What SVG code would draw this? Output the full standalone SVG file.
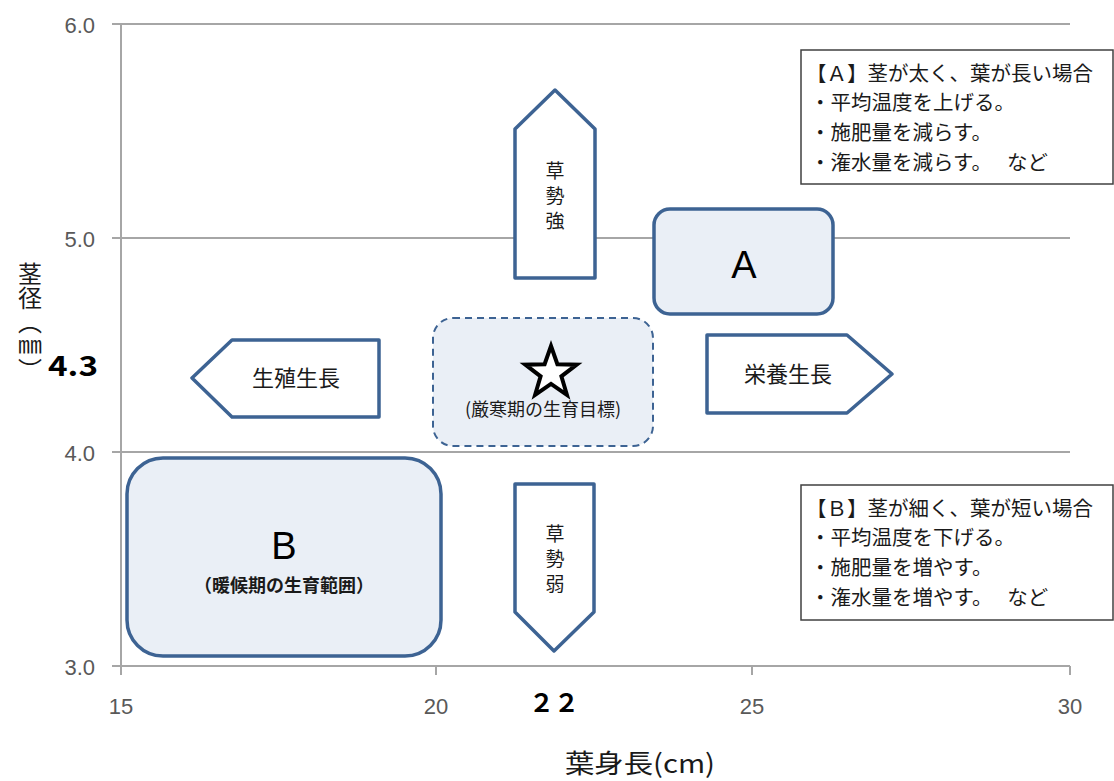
<svg xmlns="http://www.w3.org/2000/svg" width="1114" height="781" viewBox="0 0 1114 781">
<style>
.grid{stroke:#a6a6a6;stroke-width:2;fill:none}
.tick{font-family:"Liberation Sans","Noto Sans CJK JP",sans-serif;font-size:22px;fill:#595959}
.shape{stroke:#3d6393;stroke-width:3.5;fill:#ffffff;stroke-linejoin:round}
.zone{stroke:#3d6393;stroke-width:3.5;fill:#eaeff6}
.jp{font-family:"Noto Sans CJK JP",sans-serif;fill:#1a1a1a}
.note{font-family:"Noto Sans CJK JP",sans-serif;font-size:20.5px;fill:#1a1a1a}
.big{font-family:"Noto Sans CJK JP",sans-serif;font-weight:bold;fill:#000}
</style>
<rect width="1114" height="781" fill="#ffffff"/>
<g id="axes">
<line class="grid" x1="112" y1="24" x2="1070" y2="24"/>
<line class="grid" x1="112" y1="238" x2="1070" y2="238"/>
<line class="grid" x1="112" y1="452" x2="1070" y2="452"/>
<line class="grid" x1="112" y1="666" x2="1070" y2="666"/>
<line class="grid" x1="121" y1="24" x2="121" y2="675"/>
<line class="grid" x1="436" y1="666" x2="436" y2="675"/>
<line class="grid" x1="752" y1="666" x2="752" y2="675"/>
<line class="grid" x1="1070" y1="666" x2="1070" y2="675"/>
<text class="tick" x="95" y="33" text-anchor="end" font-size="24">6.0</text>
<text class="tick" x="95" y="247" text-anchor="end" font-size="24">5.0</text>
<text class="tick" x="95" y="461" text-anchor="end" font-size="24">4.0</text>
<text class="tick" x="95" y="675" text-anchor="end" font-size="24">3.0</text>
<text class="tick" x="121" y="714" text-anchor="middle">15</text>
<text class="tick" x="436" y="714" text-anchor="middle">20</text>
<text class="tick" x="752" y="714" text-anchor="middle">25</text>
<text class="tick" x="1070" y="714" text-anchor="middle">30</text>
<text class="big" x="48" y="376" font-size="28" textLength="50" lengthAdjust="spacingAndGlyphs">4.3</text>
<text class="big" x="554" y="712" font-size="25" text-anchor="middle">２２</text>
<text class="jp" x="565" y="773" font-size="26" textLength="150" lengthAdjust="spacingAndGlyphs">葉身長(cm)</text>
<text class="jp" x="30" y="262" font-size="24" style="writing-mode:vertical-rl">茎径（㎜）</text>
</g>
<g id="connectors"></g>
<g id="arrow-up">
<polygon class="shape" points="515,278 515,129 555,90 595,129 595,278"/>
<text class="jp" x="555" y="178" font-size="19" text-anchor="middle">草</text>
<text class="jp" x="555" y="203" font-size="19" text-anchor="middle">勢</text>
<text class="jp" x="555" y="228" font-size="19" text-anchor="middle">強</text>
</g>
<g id="arrow-down">
<polygon class="shape" points="515,484 594,484 594,612 554,651 515,612"/>
<text class="jp" x="555" y="541" font-size="19" text-anchor="middle">草</text>
<text class="jp" x="555" y="566" font-size="19" text-anchor="middle">勢</text>
<text class="jp" x="555" y="591" font-size="19" text-anchor="middle">弱</text>
</g>
<g id="arrow-left">
<polygon class="shape" points="379,340 379,417 232,417 192,378 232,340"/>
<text class="jp" x="296" y="386" font-size="22" text-anchor="middle">生殖生長</text>
</g>
<g id="arrow-right">
<polygon class="shape" points="707,335 847,335 892,374 847,413 707,413"/>
<text class="jp" x="788" y="382" font-size="22" text-anchor="middle">栄養生長</text>
</g>
<g id="zone-a">
<rect class="zone" x="654" y="209" width="179" height="105" rx="16"/>
<text x="744" y="278" font-family="Liberation Sans,sans-serif" font-size="38" fill="#000" text-anchor="middle">A</text>
</g>
<g id="zone-target">
<rect x="433" y="318" width="220" height="128" rx="20" fill="#eaeff6" stroke="#3d6393" stroke-width="2" stroke-dasharray="7,5"/>
<polygon points="551,346 557.4,364.2 576.7,364.7 561.4,376.3 566.9,394.8 551,383.9 535.1,394.8 540.6,376.3 525.3,364.7 544.6,364.2" fill="#ffffff" stroke="#000" stroke-width="4" stroke-linejoin="miter"/>
<text class="jp" x="543" y="416" font-size="18" text-anchor="middle">(厳寒期の生育目標)</text>
</g>
<g id="zone-b">
<rect class="zone" x="127" y="458" width="314" height="198" rx="36"/>
<text x="284" y="559" font-family="Liberation Sans,sans-serif" font-size="38" fill="#000" text-anchor="middle">B</text>
<text class="jp" x="284" y="592" font-size="18" font-weight="bold" text-anchor="middle">（暖候期の生育範囲）</text>
</g>
<g id="note-a">
<rect x="801" y="50" width="312" height="134" fill="#ffffff" stroke="#404040" stroke-width="1.5"/>
<text class="note" x="806" y="81">【Ａ】茎が太く、葉が長い場合</text>
<text class="note" x="810" y="110">・平均温度を上げる。</text>
<text class="note" x="810" y="140">・施肥量を減らす。</text>
<text class="note" x="810" y="170">・潅水量を減らす。　 など</text>
</g>
<g id="note-b">
<rect x="801" y="485" width="312" height="135" fill="#ffffff" stroke="#404040" stroke-width="1.5"/>
<text class="note" x="806" y="516">【Ｂ】茎が細く、葉が短い場合</text>
<text class="note" x="810" y="545">・平均温度を下げる。</text>
<text class="note" x="810" y="575">・施肥量を増やす。</text>
<text class="note" x="810" y="605">・潅水量を増やす。　 など</text>
</g>
</svg>
